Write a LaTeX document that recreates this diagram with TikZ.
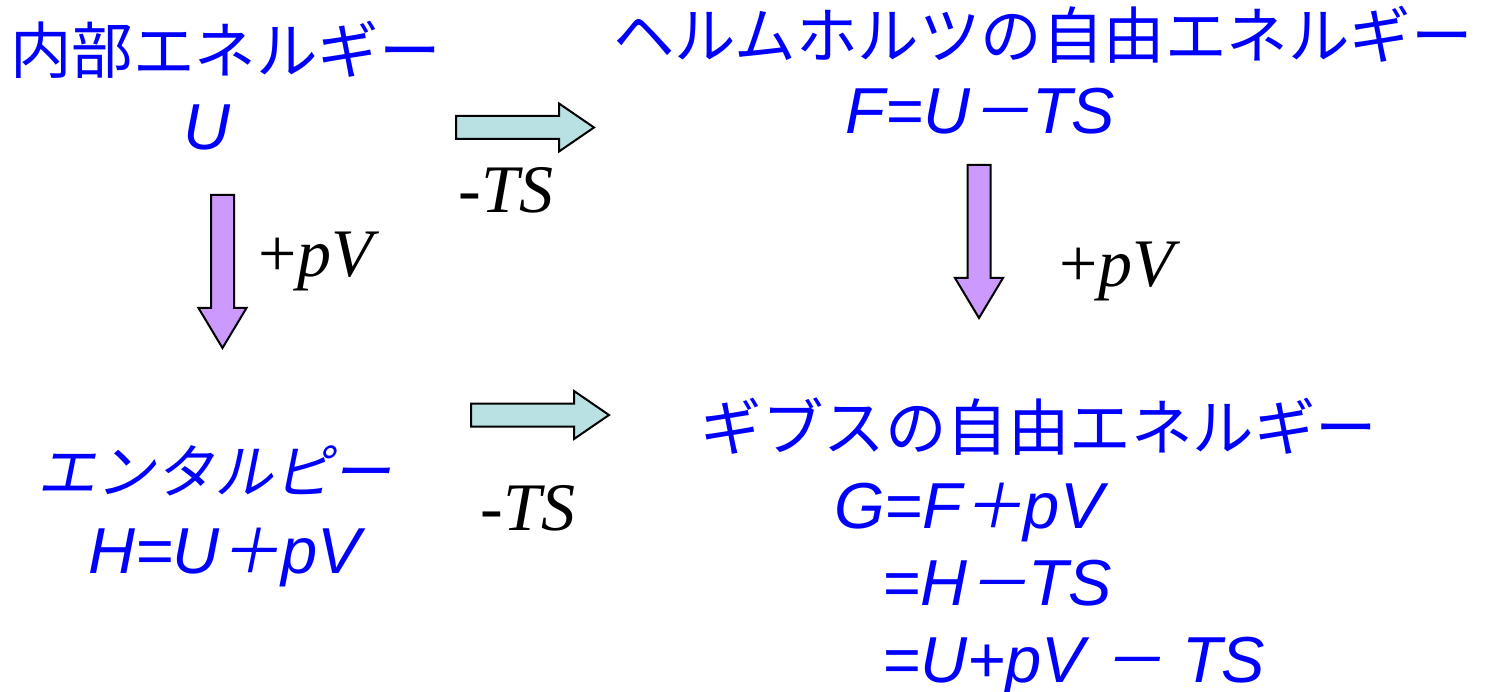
\documentclass[tikz,border=0pt]{standalone}
\usepackage{fontspec}
\setmainfont{Liberation Serif}
\newfontfamily\jpfont{Noto Sans CJK JP}
\newfontfamily\jpslant[FakeSlant=0.2]{Noto Sans CJK JP}
\newfontfamily\frmfont{Liberation Sans}
\newcommand\fwch[1]{{\jpslant\fontsize{61.5}{70}\selectfont #1}}
\definecolor{txtblue}{RGB}{0,0,255}
\definecolor{tealfill}{RGB}{185,224,226}
\definecolor{purplefill}{RGB}{204,153,255}
\begin{document}
\begin{tikzpicture}[x=1pt,y=-1pt,
  jp/.style={text=txtblue, font=\jpfont\fontsize{61.5}{70}\selectfont, inner sep=0pt},
  jpsl/.style={text=txtblue, font=\jpslant\fontsize{59}{70}\selectfont, inner sep=0pt},
  frm/.style={text=txtblue, font=\frmfont\itshape\fontsize{65}{70}\selectfont, inner sep=0pt},
  lbl/.style={text=black, font=\fontsize{68}{70}\selectfont, inner sep=0pt},
  tealarrow/.style={draw=black, line width=2pt, fill=tealfill, line join=miter},
  purplearrow/.style={draw=black, line width=2pt, fill=purplefill, line join=miter},
  harrow/.pic={\path[pic actions] (0,-11.5) -- (103,-11.5) -- (103,-24) -- (138,0) -- (103,24) -- (103,11.5) -- (0,11.5) -- cycle;},
  varrow/.pic={\path[pic actions] (-11.5,0) -- (-11.5,113) -- (-24,113) -- (0,153) -- (24,113) -- (11.5,113) -- (11.5,0) -- cycle;}
]
\useasboundingbox[fill=white] (0,0) rectangle (1488,692);

% internal energy
\node[jp] (uname) at (225.5,49.5) {内部エネルギー};
\node[frm, anchor=base] (uform) at (207,150) {U};

% Helmholtz
\node[jp] (fname) at (1043,34.5) {ヘルムホルツの自由エネルギー};
\node[frm, anchor=base] (fform) at (980.5,134) {F=U\fwch{－}TS};

% enthalpy
\node[jpsl] (hname) at (214.5,470.5) {エンタルピー};
\node[frm, anchor=base] (hform) at (224.5,573) {H=U\fwch{＋}pV};

% Gibbs
\node[jp] (gname) at (1039,426.5) {ギブスの自由エネルギー};
\node[frm, anchor=base west] (gform1) at (834,528) {G=F\fwch{＋}pV};
\node[frm, anchor=base west] (gform2) at (882,605) {=H\fwch{－}TS};
\node[frm, anchor=base west] (gform3) at (882,682) {=U+pV \fwch{－} TS};

% arrows
\pic[tealarrow] (ta1) at (456,127.5) {harrow};
\pic[tealarrow] (ta2) at (471,415) {harrow};
\pic[purplearrow] (pa1) at (222.5,195) {varrow};
\pic[purplearrow] (pa2) at (979,165) {varrow};

% arrow labels
\node[lbl, anchor=base] (ts1) at (506,213) {-\textit{TS}};
\node[lbl, anchor=base] (ts2) at (528,530) {-\textit{TS}};
\node[lbl, anchor=base] (pv1) at (319,277) {+\textit{pV}};
\node[lbl, anchor=base] (pv2) at (1120,287) {+\textit{pV}};
\end{tikzpicture}
\end{document}
